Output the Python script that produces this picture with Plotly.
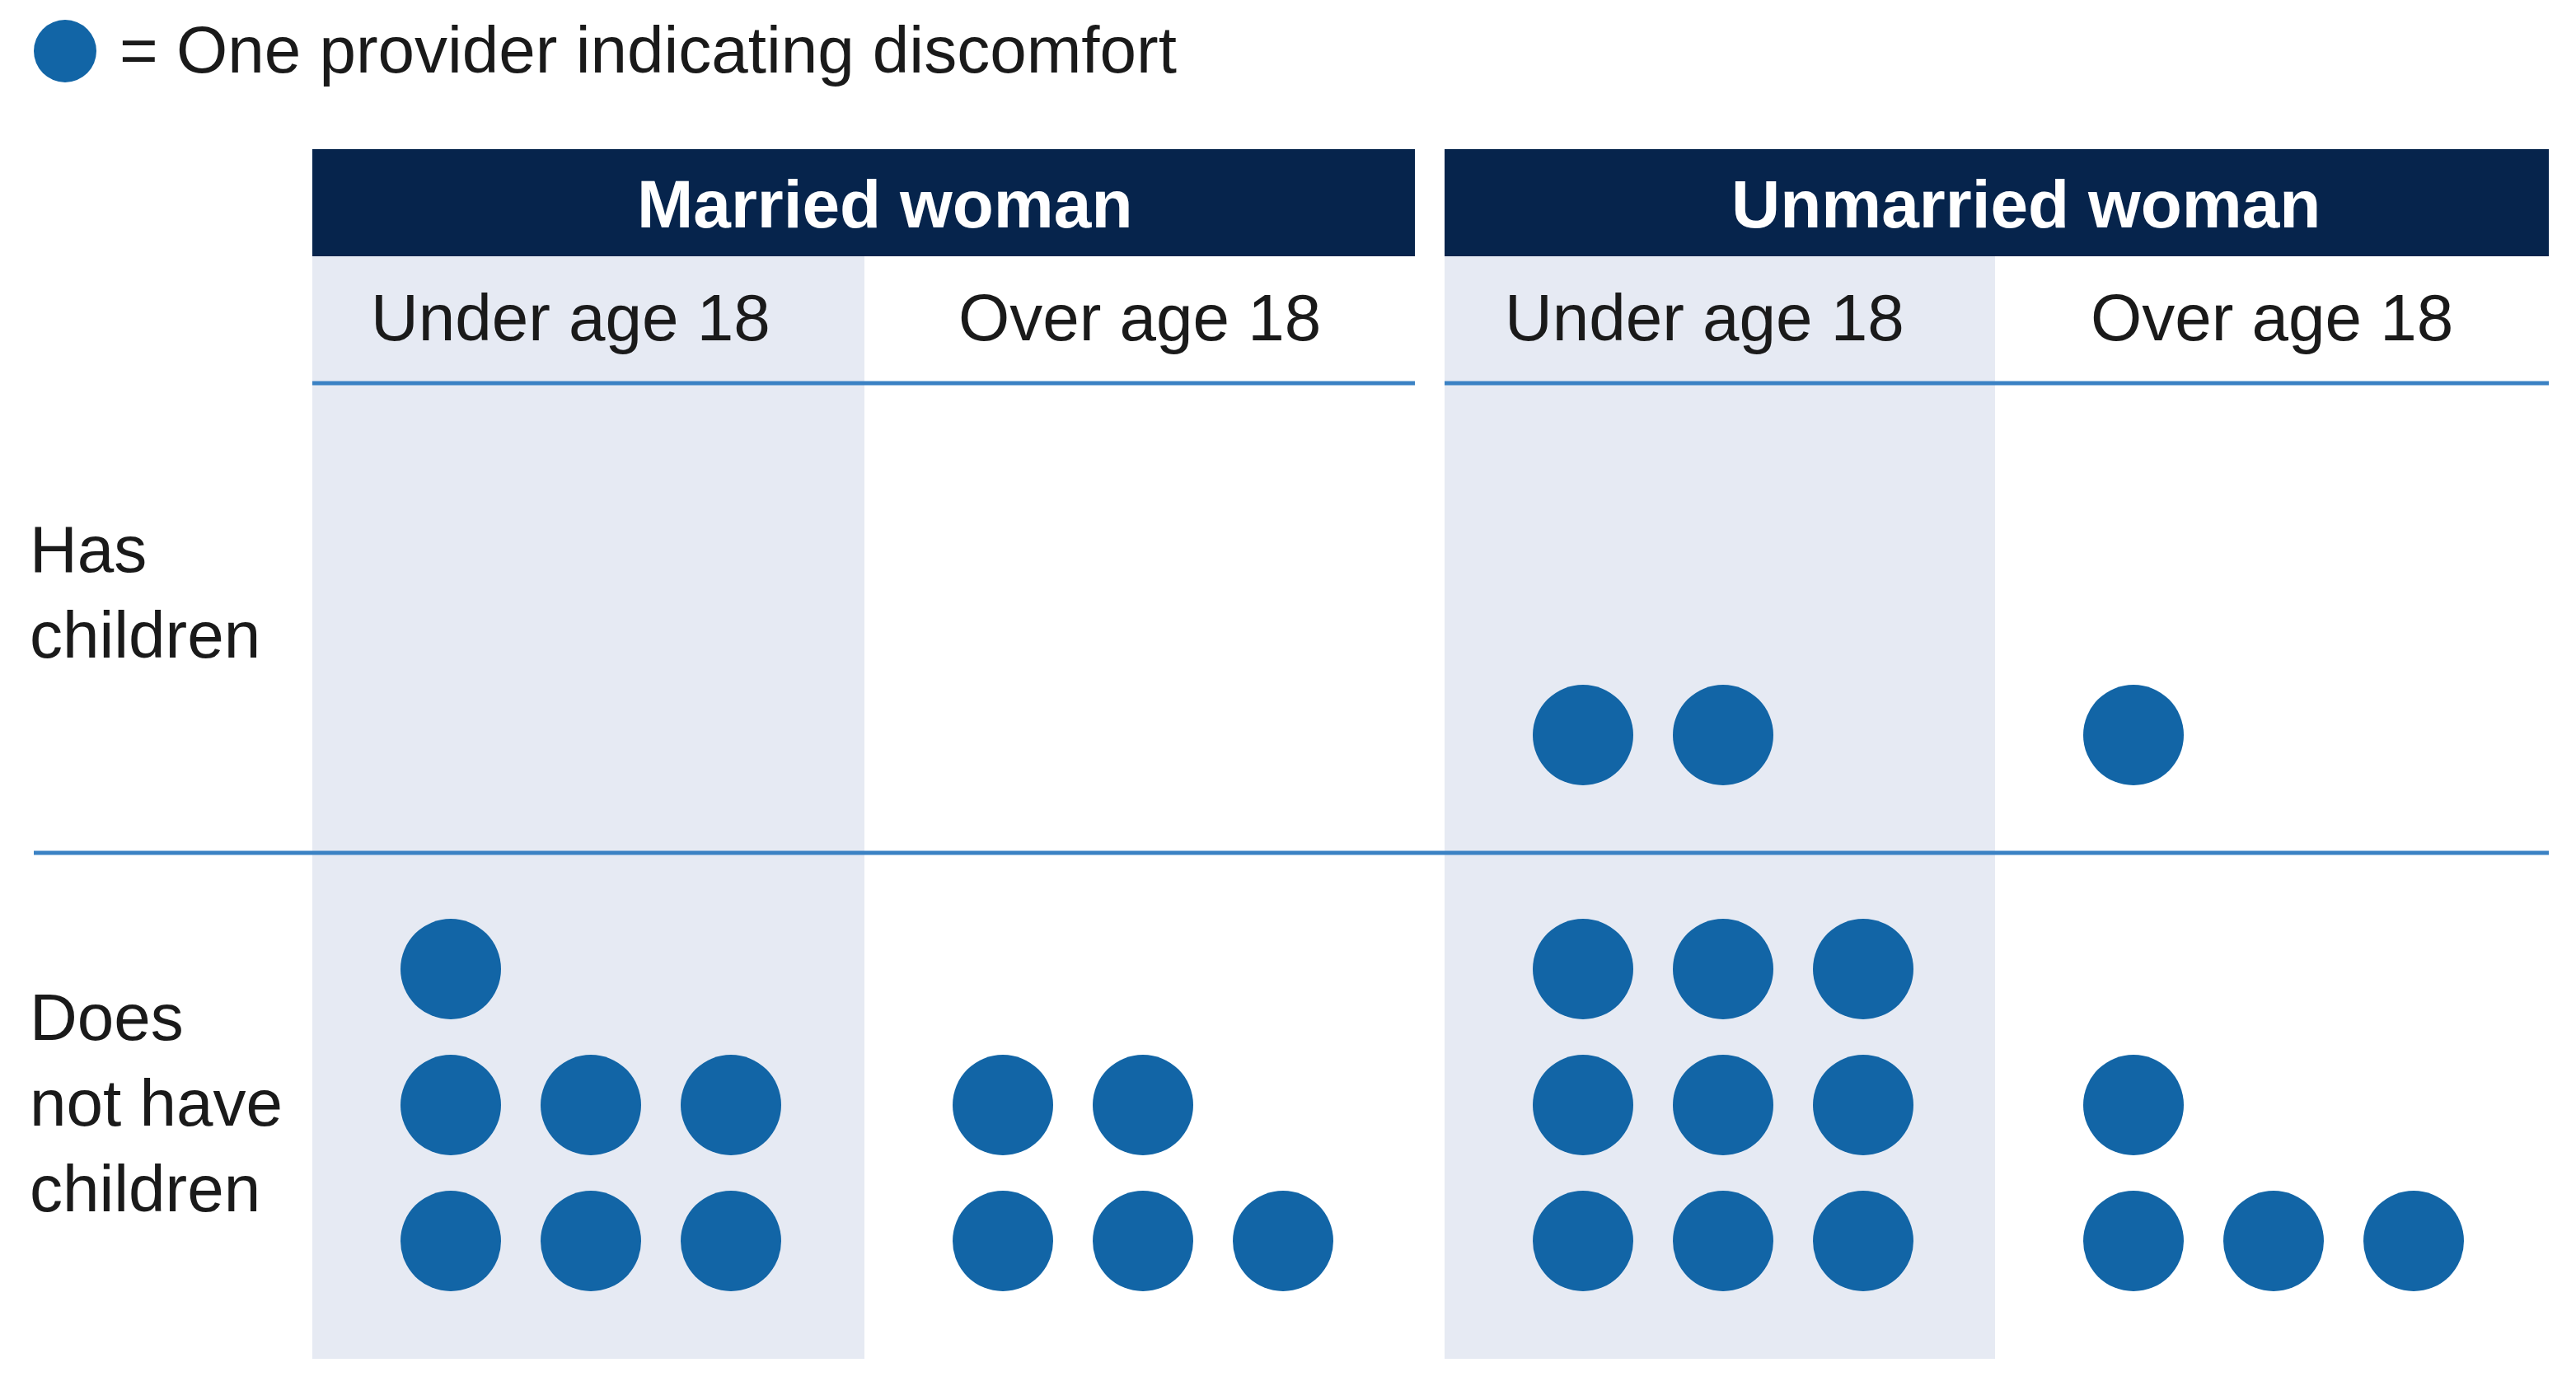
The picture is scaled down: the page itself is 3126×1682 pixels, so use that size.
import plotly.graph_objects as go

# ---------------- data ----------------
marital_groups = ["Married woman", "Unmarried woman"]
age_groups = ["Under age 18", "Over age 18"]
child_rows = ["Has<br>children", "Does<br>not have<br>children"]
# number of providers indicating discomfort per cell
# order: married/under, married/over, unmarried/under, unmarried/over
has_children = [0, 0, 2, 1]
no_children = [7, 5, 9, 4]
legend_text = "= One provider indicating discomfort"

# ---------------- styling / layout constants (pixels) ----------------
W, H = 3126, 1682
NAVY = "#06244c"
DOT = "#1265a6"
SHADE = "#e6eaf3"
LINE = "#3b82c4"
TEXT = "#1a1a1a"
FONT = "Liberation Sans, Arial, sans-serif"
FS = 80

cells_x = [(379, 1049), (1049, 1717), (1753, 2421), (2421, 3093)]
group_x = [(379, 1717), (1753, 3093)]
group_label_x = [1073, 2458]
sub_label_x = [692, 1383, 2068, 2757]
rows_y = [(467, 1035), (1035, 1649)]
row_label_y = [718, 1338]
HEADER_Y = (181, 311)
SUBLINE_Y = 465
ROWLINE_Y = 1035

DOT_D = 122
DOT_DX = 170
DOT_DY = 165
DOT_X0 = 168
DOT_Y0 = 143
PER_ROW = 3

fig = go.Figure()

# dots, built from counts
xs, ys = [], []
for r, counts in enumerate([has_children, no_children]):
    bottom = rows_y[r][1]
    for c, n in enumerate(counts):
        left = cells_x[c][0]
        for i in range(n):
            xs.append(left + DOT_X0 + (i % PER_ROW) * DOT_DX)
            ys.append(bottom - DOT_Y0 - (i // PER_ROW) * DOT_DY)

fig.add_trace(go.Scatter(
    x=xs, y=ys, mode="markers",
    marker=dict(size=DOT_D, color=DOT, line=dict(width=0)),
    hoverinfo="skip", showlegend=False,
))

# legend key dot
fig.add_trace(go.Scatter(
    x=[79], y=[62], mode="markers",
    marker=dict(size=76, color=DOT, line=dict(width=0)),
    hoverinfo="skip", showlegend=False,
))

shapes = []
# shaded "under age 18" columns
for c in (0, 2):
    shapes.append(dict(type="rect", xref="x", yref="y",
                       x0=cells_x[c][0], x1=cells_x[c][1], y0=HEADER_Y[1], y1=rows_y[1][1],
                       fillcolor=SHADE, line=dict(width=0), layer="below"))
# header bars
for gx in group_x:
    shapes.append(dict(type="rect", xref="x", yref="y",
                       x0=gx[0], x1=gx[1], y0=HEADER_Y[0], y1=HEADER_Y[1],
                       fillcolor=NAVY, line=dict(width=0), layer="below"))
# lines under sub headers
for gx in group_x:
    shapes.append(dict(type="line", xref="x", yref="y",
                       x0=gx[0], x1=gx[1], y0=SUBLINE_Y, y1=SUBLINE_Y,
                       line=dict(color=LINE, width=5), layer="below"))
# divider between rows
shapes.append(dict(type="line", xref="x", yref="y",
                   x0=41, x1=group_x[1][1], y0=ROWLINE_Y, y1=ROWLINE_Y,
                   line=dict(color=LINE, width=5), layer="below"))

annotations = []
for lab, x in zip(marital_groups, group_label_x):
    annotations.append(dict(text=lab, x=x, y=(HEADER_Y[0] + HEADER_Y[1]) / 2 + 1,
                            xref="x", yref="y", xanchor="center", yanchor="middle",
                            showarrow=False,
                            font=dict(family=FONT, size=82, color="white", weight="bold")))
for i, x in enumerate(sub_label_x):
    annotations.append(dict(text=age_groups[i % 2], x=x, y=385,
                            xref="x", yref="y", xanchor="center", yanchor="middle",
                            showarrow=False,
                            font=dict(family=FONT, size=FS, color=TEXT)))
for lab, y in zip(child_rows, row_label_y):
    annotations.append(dict(text=lab, x=34, y=y, xref="x", yref="y",
                            xanchor="left", yanchor="middle", align="left",
                            showarrow=False,
                            font=dict(family=FONT, size=FS, color=TEXT)))
annotations.append(dict(text=legend_text, x=143, y=60, xref="x", yref="y",
                        xanchor="left", yanchor="middle", showarrow=False,
                        font=dict(family=FONT, size=FS, color=TEXT)))

fig.update_layout(
    width=W, height=H,
    margin=dict(l=0, r=0, t=0, b=0),
    paper_bgcolor="white", plot_bgcolor="white",
    xaxis=dict(range=[0, W], visible=False, fixedrange=True),
    yaxis=dict(range=[H, 0], visible=False, fixedrange=True),
    shapes=shapes, annotations=annotations,
    showlegend=False,
)

fig.write_html("out.html", config={"displayModeBar": False},
               post_script="document.body.style.margin='0';document.body.style.overflow='hidden';")
